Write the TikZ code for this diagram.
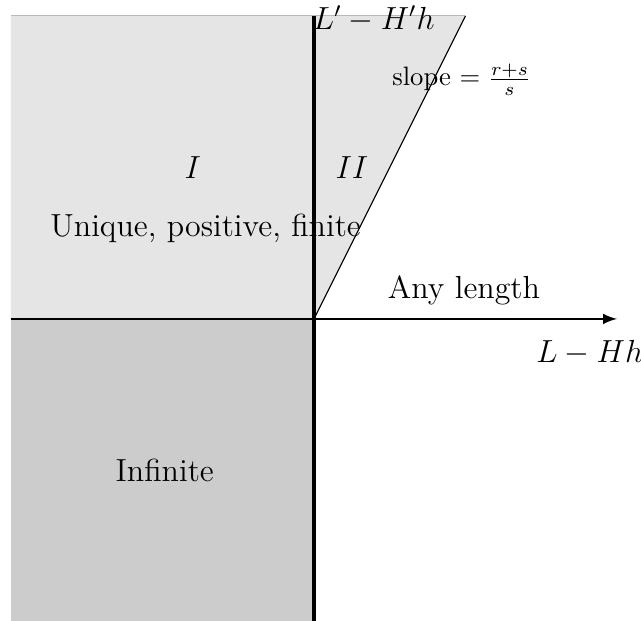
\documentclass[tikz,border=0pt]{standalone}
\usetikzlibrary{calc}

\begin{document}
\begin{tikzpicture}[
        every node/.style={font=\large},
        axis/.style={draw=black, line width=0.8pt},
        vaxis/.style={draw=black, line width=1.2pt},
        edge/.style={draw=black, line width=0.4pt},
        lbl/.style={font=\normalsize},
      ]
      \useasboundingbox (-4.145,-3.98) rectangle (4.317,4.21);

      \coordinate (o)  at (0,0);
      \coordinate (tl) at (-4,4);
      \coordinate (tr) at (2,4);
      \coordinate (bl) at (-4,-4);
      \coordinate (xs) at (-4,0);
      \coordinate (xe) at (4,0);
      \coordinate (ys) at (0,-4);
      \coordinate (ye) at (0,4);

      \fill[gray!20] (xs) -- (tl) -- (tr) -- (o) -- cycle;
      \fill[gray!40] (bl) rectangle (o);
      \draw[gray!55, line width=0.4pt] (tl) -- (tr);

      \draw[edge] (o) -- (tr);
      \draw[axis, -latex] (xs) -- (xe);
      \draw[vaxis] (ys) -- (ye);

      \node (one)  at (-1.6, 2) {$I$};
      \node (two)  at (0.5, 2) {$II$};
      \node (uniq) at (-1.43, 1.2) {Unique, positive, finite};
      \node (any)  at (1.98, 0.38) {Any length};
      \node (inf)  at (-1.97, -2) {Infinite};
      \node[lbl] (slope) at (1.95, 3.16) {slope $=\frac{r+s}{s}$};
      \node (xlab) at (3.64, -0.45) {$L-Hh$};
      \node[anchor=west, inner sep=0pt] (ylab) at (-0.02, 3.96) {$L'-H'h$};
    \end{tikzpicture}
\end{document}
